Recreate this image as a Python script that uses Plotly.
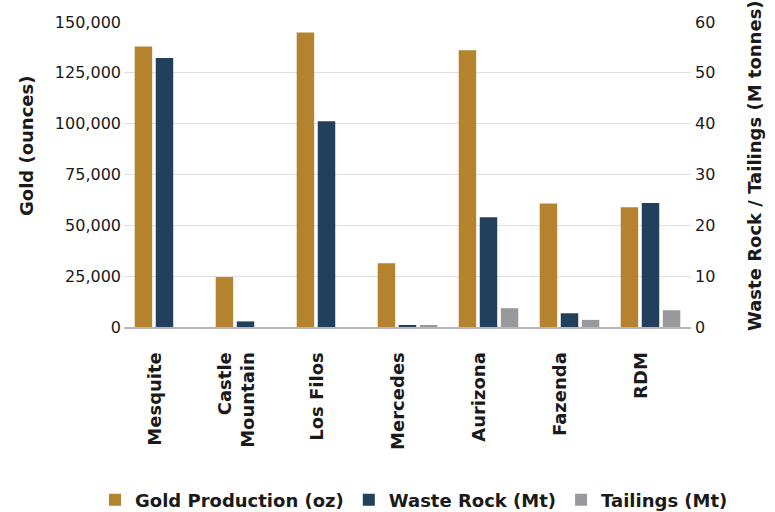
import plotly.graph_objects as go

mines = ["Mesquite", "Castle<br>Mountain", "Los Filos", "Mercedes", "Aurizona", "Fazenda", "RDM"]
gold_oz = [138000, 24600, 144800, 31300, 136100, 60700, 58900]
waste_mt = [52.9, 1.1, 40.5, 0.2, 21.6, 2.7, 24.4]
tailings_mt = [0, 0, 0, 0.4, 3.7, 1.4, 3.3]

left_ticks = [0, 25000, 50000, 75000, 100000, 125000, 150000]
right_ticks = [0, 10, 20, 30, 40, 50, 60]

GOLD = "#B5832F"
NAVY = "#223F5C"
GRAY = "#98999D"
FONT = "DejaVu Sans"
TXT = "#1a1a1a"

W, H = 775, 512
L, R, T, B = 124, 691, 22, 327

fig = go.Figure()
fig.add_trace(go.Bar(x=mines, y=gold_oz, name="Gold Production (oz)", marker_color=GOLD,
                     marker_line_width=0, offsetgroup="1", yaxis="y"))
fig.add_trace(go.Bar(x=mines, y=waste_mt, name="Waste Rock (Mt)", marker_color=NAVY,
                     marker_line_width=0, offsetgroup="2", yaxis="y2"))
fig.add_trace(go.Bar(x=mines, y=tailings_mt, name="Tailings (Mt)", marker_color=GRAY,
                     marker_line_width=0, offsetgroup="3", yaxis="y2"))

fig.update_layout(
    width=W, height=H,
    margin=dict(l=L, r=W - R, t=T, b=H - B, autoexpand=False),
    paper_bgcolor="white", plot_bgcolor="white",
    barmode="group", bargap=0.22, bargroupgap=0.17,
    font=dict(family=FONT, size=16, color=TXT),
    xaxis=dict(
        type="category", range=[-0.5, 6.5], tickangle=-90, automargin=False,
        showline=True, linecolor="#B5B5BA", linewidth=2,
        ticks="", showgrid=False,
        tickfont=dict(family=FONT, size=18, color=TXT, weight="bold"),
        ticklabelstandoff=16, ticklabelshift=-9,
    ),
    yaxis=dict(
        range=[0, 150000], tickvals=left_ticks, tickformat=",d", automargin=False,
        showgrid=True, gridcolor="#E0E0E0", gridwidth=1,
        zeroline=False, showline=False, ticks="",
        tickfont=dict(family=FONT, size=16, color=TXT),
        ticklabelstandoff=2,
    ),
    yaxis2=dict(
        range=[0, 60], tickvals=right_ticks, overlaying="y", side="right", automargin=False,
        showgrid=False, zeroline=False, showline=False, ticks="",
        tickfont=dict(family=FONT, size=16, color=TXT),
        ticklabelstandoff=3,
    ),
    legend=dict(
        orientation="h", xref="paper", x=(95 - L) / (R - L), xanchor="left",
        yref="paper", y=(B - 500) / (B - T), yanchor="middle",
        font=dict(family=FONT, size=18, color=TXT, weight="bold"),
        itemwidth=30, tracegroupgap=0,
    ),
    annotations=[
        dict(text="<b>Gold (ounces)</b>", textangle=-90, xref="paper", yref="paper",
             x=(26 - L) / (R - L), y=(B - 146) / (B - T), xanchor="center", yanchor="middle",
             showarrow=False, font=dict(family=FONT, size=18, color=TXT)),
        dict(text="<b>Waste Rock / Tailings (M tonnes)</b>", textangle=-90, xref="paper", yref="paper",
             x=(754 - L) / (R - L), y=(B - 166) / (B - T), xanchor="center", yanchor="middle",
             showarrow=False, font=dict(family=FONT, size=18, color=TXT)),
    ],
)

fig.write_html("out.html")
